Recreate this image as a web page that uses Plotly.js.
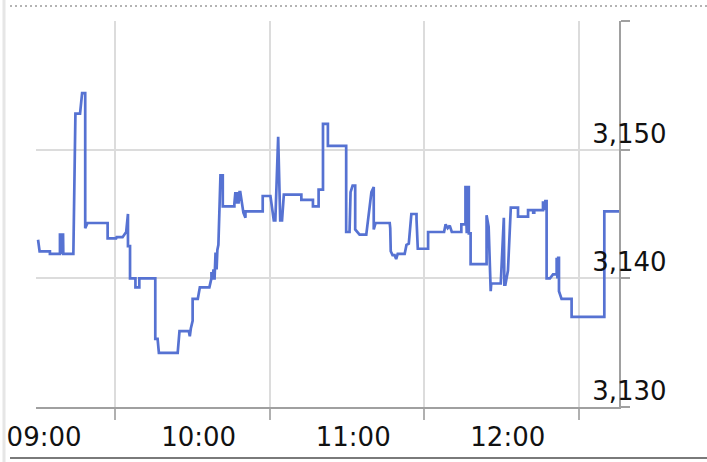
<!DOCTYPE html>
<html>
<head>
<meta charset="utf-8">
<script src="https://cdn.plot.ly/plotly-3.0.1.min.js"></script>
<style>html,body{margin:0;padding:0;background:#fff;}#chart{width:707px;height:462px;}</style>
</head>
<body>
<div id="chart"></div>
<script>
// minutes after 09:00
const minutes = [0,0.6,4.6,4.6,8.5,8.5,8.8,9.1,9.4,9.7,9.8,13.7,14.5,16.3,17.1,18.3,18.3,19.2,27.0,27.0,
30.3,30.5,32.8,34.2,34.9,34.9,35.7,35.7,37.8,37.8,39.3,39.3,45.5,45.5,46.4,46.9,54.2,54.9,58.5,58.9,
59.3,60.0,60.0,62.0,62.8,66.5,67.3,67.3,67.7,68.1,68.5,68.9,69.3,69.6,70.0,70.8,71.7,71.7,76.2,76.2,
76.6,77.0,77.4,77.8,78.2,78.5,79.7,80.5,80.5,87.2,87.2,90.2,91.5,92.1,93.2,94.0,94.7,95.4,102.2,102.2,
106.7,106.7,108.9,108.9,110.6,110.6,112.5,112.5,119.6,119.6,120.9,121.3,122.1,123.1,123.1,124.8,127.4,129.4,130.3,130.3,
131.0,136.5,136.7,136.9,137.6,138.4,139.0,139.6,142.3,143.0,143.9,144.9,146.9,146.9,147.4,151.4,151.4,157.6,158.2,159.0,
159.8,160.6,164.3,164.3,165.9,165.9,166.4,166.6,166.9,167.2,167.2,167.9,167.9,174.1,174.1,174.7,174.9,175.7,175.9,179.6,
180.8,181.0,181.4,182.4,183.5,186.3,186.3,190.2,190.2,192.2,192.2,192.6,192.6,196.0,196.0,196.5,196.9,197.4,197.4,198.7,
199.9,201.3,201.3,201.6,201.9,202.2,202.2,203.2,207.1,207.1,219.8,219.8,225.5];
const prices = [3143.0,3142.1,3142.1,3141.9,3141.9,3143.5,3141.9,3143.5,3141.9,3143.5,3141.9,3141.9,3152.8,3152.8,3154.4,3154.4,3143.9,3144.3,3144.3,3143.1,
3143.1,3143.2,3143.2,3143.6,3145.0,3142.5,3142.5,3140.0,3140.0,3139.3,3139.3,3140.0,3140.0,3135.3,3135.3,3134.2,3134.2,3135.9,3135.9,3135.5,
3136.1,3136.7,3138.4,3138.4,3139.3,3139.3,3140.0,3140.5,3139.9,3140.7,3139.9,3142.0,3140.7,3142.2,3142.6,3148.0,3148.0,3145.6,3145.6,3145.8,
3146.7,3145.8,3146.7,3145.8,3146.7,3146.7,3145.1,3144.7,3145.2,3145.2,3146.4,3146.4,3144.5,3144.5,3151.0,3144.5,3144.5,3146.5,3146.5,3146.1,
3146.1,3145.6,3145.6,3146.9,3146.9,3152.0,3152.0,3150.3,3150.3,3143.6,3143.6,3146.7,3147.2,3147.2,3143.8,3143.4,3143.4,3146.7,3147.1,3143.8,
3144.3,3144.3,3143.9,3142.1,3141.8,3141.8,3141.5,3141.9,3141.9,3142.6,3142.7,3145.0,3145.0,3144.6,3142.3,3142.3,3143.6,3143.6,3144.2,3143.9,
3144.1,3143.6,3143.6,3144.2,3144.2,3147.2,3143.5,3147.2,3143.5,3147.2,3143.5,3143.5,3141.1,3141.1,3144.9,3144.1,3144.0,3139.0,3139.6,3139.6,
3144.7,3139.5,3139.5,3140.6,3145.5,3145.5,3144.8,3144.8,3145.3,3145.3,3145.1,3145.1,3145.3,3145.3,3146.0,3145.3,3146.0,3146.0,3140.0,3140.0,
3140.3,3140.3,3141.6,3140.0,3141.6,3141.6,3139.0,3138.4,3138.4,3137.0,3137.0,3145.2,3145.2];

const gridTicks = [30, 90, 150, 210];
const hourTicks = [0, 60, 120, 180];
const hourLabels = ['09:00', '10:00', '11:00', '12:00'];
const priceTicks = [3130, 3140, 3150, 3160];
const priceLabels = ['3,130', '3,140', '3,150', ''];

const font = 'DejaVu Sans, Verdana, sans-serif';
const xRange = [-0.8, 225.5];

const trace = {
  x: minutes, y: prices, type: 'scatter', mode: 'lines',
  line: {color: '#5672d2', width: 2.7}, hoverinfo: 'skip'
};
const dummy = {x: [0], y: [3140], xaxis: 'x2', yaxis: 'y', mode: 'markers',
  marker: {opacity: 0}, hoverinfo: 'skip', showlegend: false};

const layout = {
  width: 707, height: 462,
  margin: {l: 36, r: 88, t: 21, b: 55},
  paper_bgcolor: '#fff', plot_bgcolor: '#fff',
  showlegend: false,
  xaxis: {
    range: xRange, tickvals: gridTicks, showticklabels: false,
    showgrid: true, gridcolor: '#dcdcdc', gridwidth: 2,
    ticks: 'outside', ticklen: 11, tickwidth: 2, tickcolor: '#b0b0b0',
    showline: true, linecolor: '#a0a0a0', linewidth: 2, zeroline: false
  },
  xaxis2: {
    overlaying: 'x', anchor: 'y', side: 'bottom', range: xRange,
    tickvals: hourTicks, ticktext: hourLabels, showgrid: false, zeroline: false,
    ticks: '', showline: false, ticklabelstandoff: 12, ticklabelshift: 6,
    tickfont: {family: font, size: 26, color: '#111'}
  },
  yaxis: {
    side: 'right', range: [3130, 3160], tickvals: priceTicks, ticktext: priceLabels,
    showgrid: true, gridcolor: '#dcdcdc', gridwidth: 2, zeroline: false,
    ticks: 'outside', ticklen: 9, tickwidth: 2, tickcolor: '#a0a0a0',
    showline: true, linecolor: '#a0a0a0', linewidth: 2,
    ticklabelposition: 'outside top', ticklabelstandoff: -34, ticklabelshift: 3,
    tickfont: {family: font, size: 26, color: '#111'}
  },
  shapes: [
    {type: 'line', xref: 'paper', yref: 'paper', xsizemode: 'pixel', ysizemode: 'pixel',
     xanchor: 0, yanchor: 0, x0: -32, x1: -32, y0: -60, y1: 410,
     line: {color: '#e6e6e6', width: 3}},
    {type: 'line', xref: 'paper', yref: 'paper', xsizemode: 'pixel', ysizemode: 'pixel',
     xanchor: 0, yanchor: 1, x0: -26, x1: 675, y0: 15, y1: 15,
     line: {color: '#b4b4b4', width: 2, dash: '2px,3px'}},
    {type: 'line', xref: 'paper', yref: 'paper', xsizemode: 'pixel', ysizemode: 'pixel',
     xanchor: 0, yanchor: 0, x0: -26, x1: 675, y0: -51, y1: -51,
     line: {color: '#7a7a7a', width: 2}}
  ]
};

Plotly.newPlot('chart', [trace, dummy], layout, {staticPlot: true, displayModeBar: false});
</script>
</body>
</html>
